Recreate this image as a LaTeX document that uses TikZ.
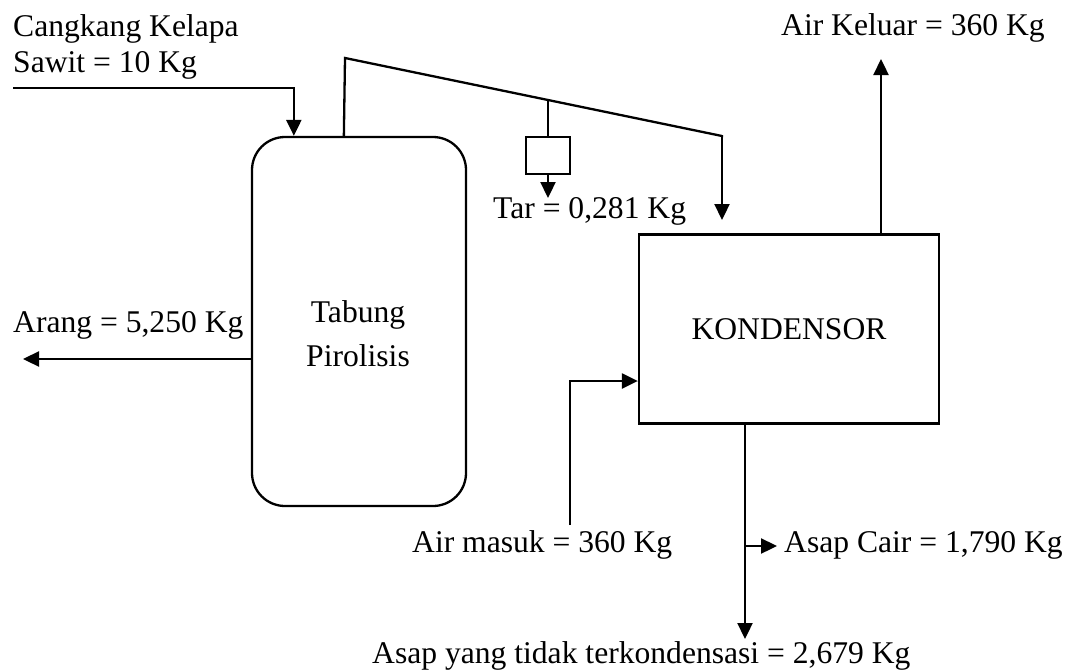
\documentclass[tikz,border=0pt]{standalone}
\usepackage{fontspec}
\setmainfont{Liberation Serif}
\usetikzlibrary{arrows.meta,calc}
\tikzset{
  unit/.style={draw, line width=2.3pt},
  flow/.style={line width=2.3pt, -{Triangle[length=16pt,width=15pt]}},
  pipe/.style={line width=2.3pt},
  lbl/.style={inner sep=0pt, anchor=base west, font=\fontsize{31.6}{36}\selectfont},
  lblc/.style={inner sep=0pt, anchor=base, font=\fontsize{31.6}{36}\selectfont}
}
\begin{document}
\begin{tikzpicture}[x=1pt,y=-1pt]
\useasboundingbox (0,0) rectangle (1070,669);
% units
\node[unit, rounded corners=33pt, minimum width=214pt, minimum height=369pt, inner sep=0pt] (tube) at (359,321.5) {};
\node[unit, minimum width=300pt, minimum height=189pt, inner sep=0pt, font=\fontsize{31.6}{36}\selectfont] (kond) at (789,329) {KONDENSOR};
\node[unit, minimum width=44pt, minimum height=37pt, inner sep=0pt] (tarbox) at (548,155.5) {};
% labels
\node[lbl] (l1) at (13,37) {Cangkang Kelapa};
\node[lbl] (l2) at (13,73) {Sawit = 10 Kg};
\node[lblc] (t1) at (358,322.7) {Tabung};
\node[lblc] (t2) at (358,366.7) {Pirolisis};
\node[lbl] (lkel) at (781,36) {Air Keluar = 360 Kg};
\node[lbl] (ltar) at (493,218) {Tar = 0,281 Kg};
\node[lbl] (larang) at (13,332) {Arang = 5,250 Kg};
\node[lbl] (lmasuk) at (412,552) {Air masuk = 360 Kg};
\node[lbl] (lcair) at (784,552) {Asap Cair = 1,790 Kg};
\node[lbl] (lasap) at (372,663) {Asap yang tidak terkondensasi = 2,679 Kg};
% coordinates
\coordinate (feedstart) at (13,88);
\coordinate (v1) at (345,58);
\coordinate (v2) at (722,136);
\coordinate (vend) at (722,220);
\coordinate (tarend) at (548,198);
\coordinate (kelend) at (881,59);
\coordinate (masukstart) at (570,525);
\coordinate (botend) at (745,639);
\coordinate (cairjoin) at (745,546);
\coordinate (cairend) at (777,546);
\coordinate (arangend) at (23,359);
% connectors
\draw[flow] (feedstart) -| ([xshift=43pt]tube.north west);
\draw[pipe] ([xshift=93pt]tube.north west) -- (v1) -- (v2) -- ([yshift=1pt]v2);
\draw[flow] (v2) -- (vend);
\path (v1) -- (v2) coordinate[pos=0.538] (tarjoin);
\draw[pipe] (tarjoin) -- (tarjoin |- tarbox.north);
\draw[flow] (tarbox.south) -- (tarend);
\draw[flow] (kelend |- kond.north) -- (kelend);
\draw[flow] (masukstart) |- (kond.west |- 0,381);
\draw[flow] (botend |- kond.south) -- (botend);
\draw[flow] (cairjoin) -- (cairend);
\draw[flow] (tube.west |- arangend) -- (arangend);
\end{tikzpicture}
\end{document}
